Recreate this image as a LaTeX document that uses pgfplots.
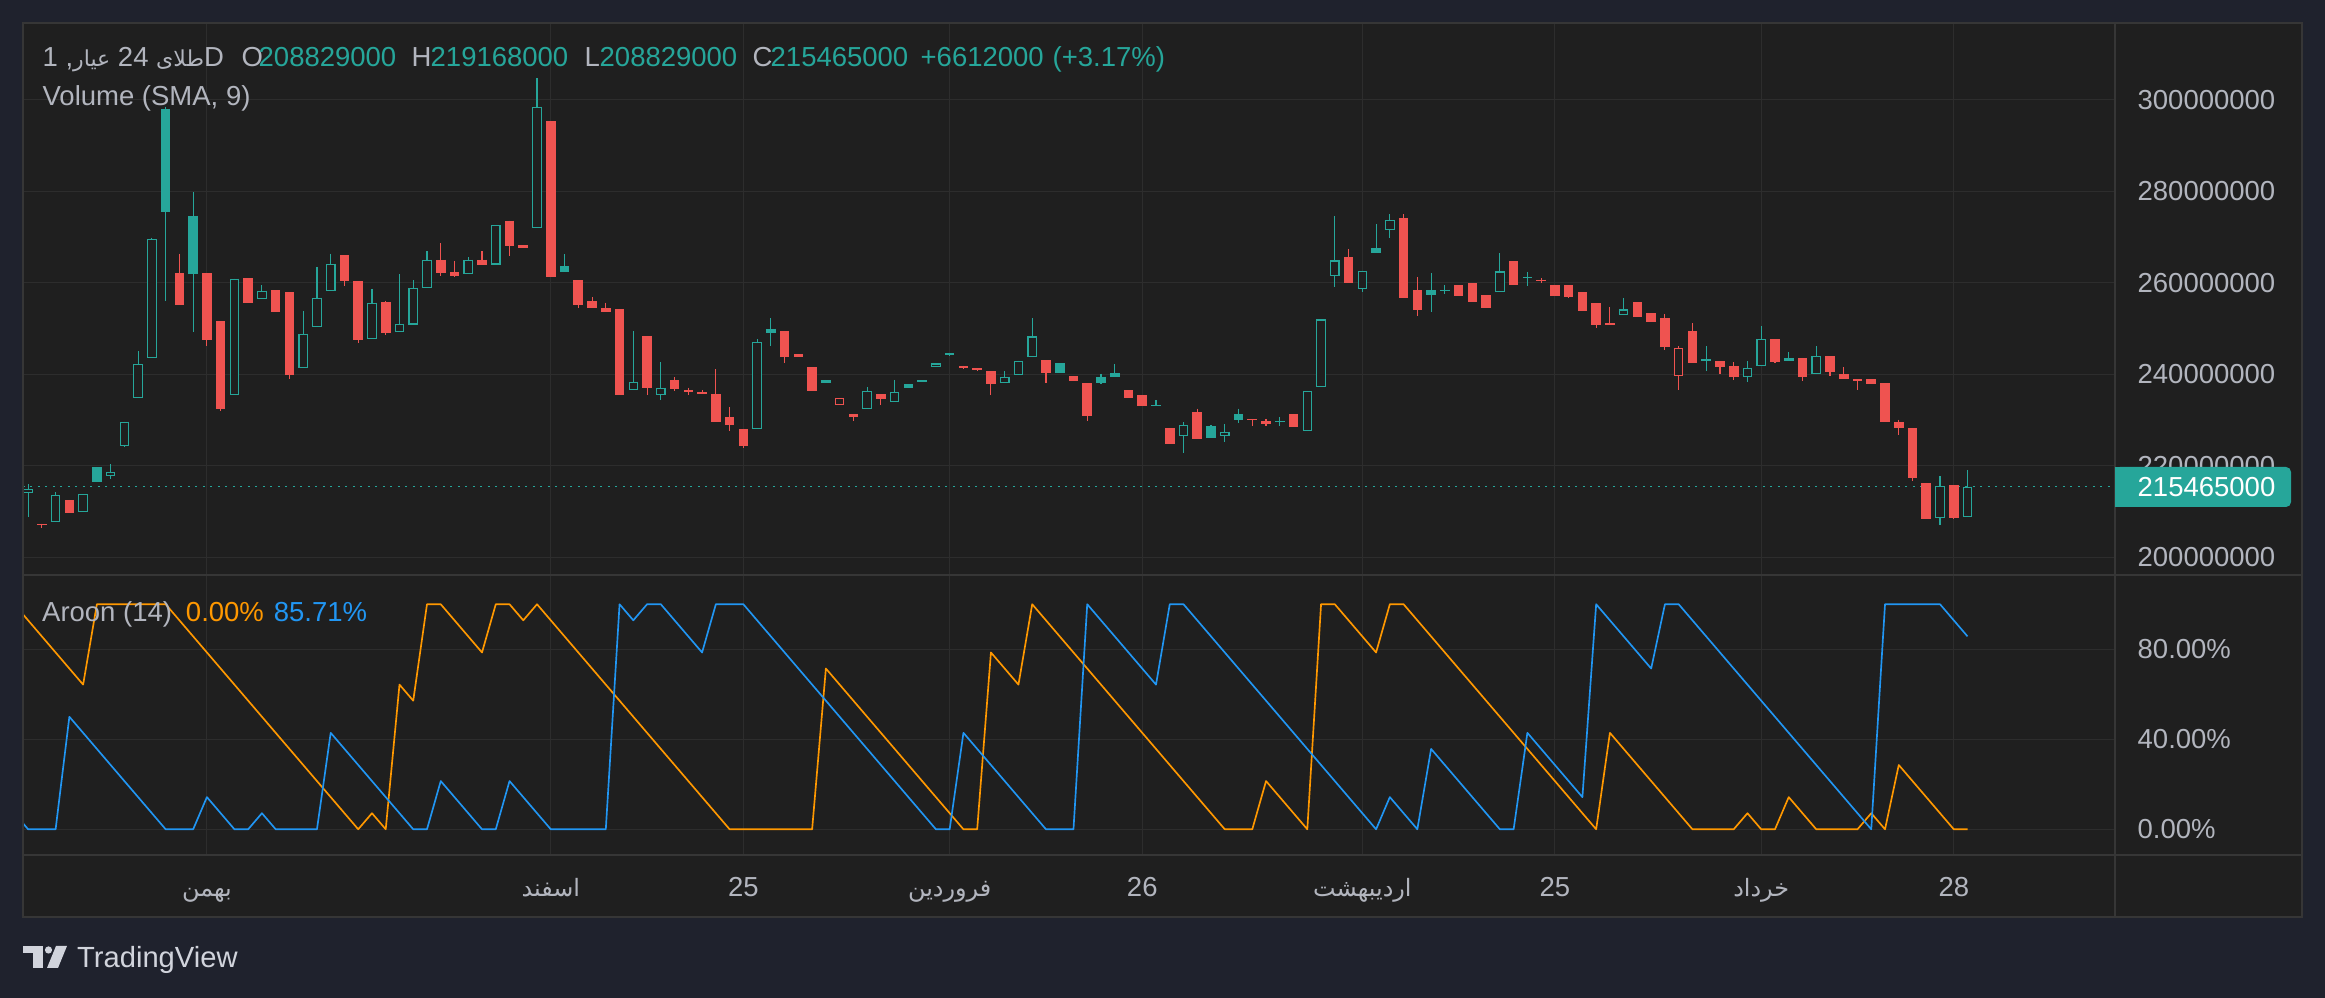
\documentclass[border=0pt]{standalone}
\usepackage{pgfplots}
\pgfplotsset{compat=1.18}
\usepackage{pgfplotstable}
\usepackage{fontspec}
\setmainfont{Liberation Sans}
\newfontfamily\arabicfont[Script=Arabic,Scale=0.87]{DejaVu Sans}
\newfontfamily\arabicsmall[Script=Arabic,Scale=0.8]{DejaVu Sans}
\TeXXeTstate=1
\newcommand{\fa}[1]{{\arabicfont\beginR #1\endR}}
\newcommand{\fs}[1]{{\arabicsmall\beginR #1\endR}}
\newcommand{\tvfont}{\fontsize{8.25pt}{10pt}\selectfont}
\definecolor{outerbg}{HTML}{1F222D}
\definecolor{panelbg}{HTML}{1F1F1F}
\definecolor{gridc}{HTML}{2D2D2D}
\definecolor{sepc}{HTML}{363636}
\definecolor{up}{HTML}{26A69A}
\definecolor{down}{HTML}{EF5350}
\definecolor{aup}{HTML}{FF9800}
\definecolor{adown}{HTML}{2196F3}
\definecolor{txt}{HTML}{B2B5BE}
\definecolor{logoc}{HTML}{D1D4DC}

% candles: i O H L C g(1=green) f(1=filled)
\pgfplotstableread{
i O H L C g f
1 214.0 216.1 208.9 214.9 1 0
2 207.3 207.4 206.4 207.0 0 1
3 207.7 214.3 207.7 213.6 1 0
4 212.6 212.6 209.8 209.8 0 1
5 209.9 213.8 209.9 213.8 1 0
6 219.8 219.8 216.6 216.6 1 1
7 217.7 220.4 217.1 218.6 1 0
8 224.4 229.7 224.1 229.7 1 0
9 234.8 245.1 234.8 242.2 1 0
10 243.5 269.9 243.5 269.5 1 0
11 298.0 298.5 256.1 275.5 1 1
12 262.1 266.4 255.2 255.2 0 1
13 274.7 279.8 249.3 262.0 1 1
14 262.1 262.1 246.3 247.6 0 1
15 251.6 251.6 232.0 232.5 0 1
16 235.5 260.9 235.5 260.9 1 0
17 261.0 261.0 255.5 255.5 0 1
18 256.5 259.5 256.5 258.3 1 0
19 258.4 258.4 253.7 253.7 0 1
20 257.9 257.9 239.0 239.9 0 1
21 241.3 253.9 241.3 248.9 1 0
22 250.3 263.5 250.3 256.8 1 0
23 258.2 266.4 258.2 264.2 1 0
24 266.0 266.0 259.3 260.3 0 1
25 260.3 260.3 246.9 247.6 0 1
26 247.7 258.7 247.7 255.7 1 0
27 255.8 256.1 248.6 249.1 0 1
28 249.2 261.9 249.2 251.1 1 0
29 250.9 260.6 250.9 258.9 1 0
30 258.9 266.9 258.9 265.1 1 0
31 265.1 268.7 261.5 262.2 0 1
32 262.4 264.8 261.3 261.6 0 1
33 261.9 265.6 261.9 265.1 1 0
34 265.1 266.9 264.0 264.0 0 1
35 264.0 272.6 264.0 272.6 1 0
36 273.6 273.6 265.9 268.1 0 1
37 268.2 268.3 267.6 267.7 0 1
38 271.9 304.7 271.9 298.5 1 0
39 295.3 295.3 261.3 261.3 0 1
40 263.6 266.2 262.4 262.4 1 1
41 260.6 260.6 254.4 255.2 0 1
42 256.0 256.9 254.6 254.6 0 1
43 254.5 255.7 253.7 253.7 0 1
44 254.3 254.3 235.6 235.6 0 1
45 236.5 249.4 236.5 238.4 1 0
46 248.4 248.4 235.6 237.0 0 1
47 235.4 242.7 234.4 237.1 1 0
48 238.7 239.4 236.3 236.8 0 1
49 236.6 237.1 235.6 236.2 0 1
50 236.1 236.5 235.7 235.7 0 1
51 235.7 241.1 229.7 229.7 0 1
52 230.7 232.8 227.7 229.0 0 1
53 228.1 228.1 224.0 224.4 0 1
54 228.1 247.7 228.1 247.0 1 0
55 250.0 252.3 246.1 249.1 1 1
56 249.5 249.5 242.5 243.9 0 1
57 244.5 244.5 243.7 243.7 0 1
58 241.6 241.6 236.4 236.4 0 1
59 238.7 238.8 238.1 238.2 1 1
60 233.3 234.9 233.3 234.9 0 0
61 231.4 231.4 229.8 230.6 0 1
62 232.4 237.2 232.4 236.3 1 0
63 235.7 235.7 233.4 234.7 0 1
64 233.9 238.8 233.9 236.2 1 0
65 237.9 237.9 237.1 237.1 1 1
66 238.7 238.7 238.4 238.4 1 1
67 241.6 242.4 241.6 242.4 1 0
68 244.6 244.6 244.1 244.2 1 1
69 241.8 241.9 241.2 241.3 0 1
70 241.3 241.4 240.8 240.9 0 1
71 240.7 240.7 235.6 237.8 0 1
72 238.1 240.7 238.1 239.5 1 0
73 239.8 243.0 239.8 243.0 1 0
74 243.7 252.3 243.7 248.3 1 0
75 243.1 243.1 238.2 240.2 0 1
76 242.4 242.4 240.4 240.4 1 1
77 239.7 239.7 238.6 238.6 0 1
78 238.1 238.1 229.9 230.9 0 1
79 239.5 240.1 237.9 238.2 1 1
80 240.3 242.3 239.5 239.5 1 1
81 236.5 236.5 234.9 234.9 0 1
82 235.5 235.5 233.0 233.0 0 1
83 233.3 234.4 233.0 233.0 1 1
84 228.3 228.3 224.9 224.9 0 1
85 226.6 229.6 222.9 229.0 1 0
86 231.7 232.5 225.8 225.8 0 1
87 228.7 228.9 226.0 226.0 1 1
88 226.6 229.2 225.3 227.5 1 0
89 231.4 232.5 229.3 230.1 1 1
90 230.3 230.3 228.8 230.0 0 1
91 229.8 230.3 228.8 229.1 0 1
92 229.8 230.6 228.8 229.5 1 1
93 231.4 231.4 228.6 228.6 0 1
94 227.6 236.4 227.6 236.4 1 0
95 237.2 252.0 237.2 252.0 1 0
96 261.4 274.6 259.2 264.9 1 0
97 265.6 267.4 260.0 260.0 0 1
98 258.7 262.7 258.1 262.7 1 0
99 267.7 272.8 266.5 266.5 1 1
100 271.5 275.0 269.9 273.7 1 0
101 274.2 275.0 256.8 256.8 0 1
102 258.4 261.3 252.8 254.1 0 1
103 258.4 262.2 253.7 257.3 1 1
104 258.5 259.5 257.6 258.2 1 1
105 259.5 259.5 257.2 257.2 0 1
106 259.9 259.9 255.9 255.9 0 1
107 257.3 257.3 254.6 254.6 0 1
108 257.9 266.5 257.9 262.5 1 0
109 264.7 264.7 259.6 259.6 0 1
110 261.2 262.4 259.4 261.0 1 1
111 260.7 261.0 260.0 260.3 0 1
112 259.5 259.5 257.2 257.2 0 1
113 259.5 259.5 256.8 257.0 0 1
114 257.9 257.9 253.9 253.9 0 1
115 255.5 255.5 250.2 250.8 0 1
116 251.2 254.7 250.7 250.7 0 1
117 252.9 256.7 252.9 254.2 1 0
118 255.8 255.8 252.6 252.6 0 1
119 253.4 253.4 251.5 251.5 0 1
120 252.3 253.2 245.4 245.9 0 1
121 239.7 246.2 236.5 245.7 0 0
122 249.4 251.2 242.4 242.4 0 1
123 243.4 246.2 240.8 242.9 1 1
124 242.9 242.9 240.1 241.7 0 1
125 241.8 242.7 238.8 239.5 0 1
126 239.5 242.9 238.4 241.5 1 0
127 241.8 250.6 241.8 247.7 1 0
128 247.7 247.7 242.5 242.7 0 1
129 243.6 244.9 243.0 243.0 1 1
130 243.6 243.6 238.6 239.5 0 1
131 240.0 246.2 240.0 244.0 1 0
132 244.0 244.0 239.7 240.6 0 1
133 240.1 241.6 238.9 238.9 0 1
134 238.9 238.9 236.6 238.6 0 1
135 238.9 238.9 238.0 238.0 0 1
136 238.1 238.1 229.5 229.5 0 1
137 229.6 230.1 226.8 228.4 0 1
138 228.3 228.3 216.7 217.3 0 1
139 216.3 216.3 208.4 208.4 0 1
140 208.6 217.8 207.0 215.6 1 0
141 215.8 215.8 208.4 208.7 0 1
142 208.829 219.168 208.829 215.465 1 0
}\candles

\pgfplotstableread{
i v
0 100
5 64.29
6 100
11 100
25 0
26 7.14
27 0
28 64.29
29 57.14
30 100
31 100
34 78.57
35 100
36 100
37 92.86
38 100
52 0
58 0
59 71.43
69 0
70 0
71 78.57
73 64.29
74 100
88 0
90 0
91 21.43
94 0
95 100
96 100
99 78.57
100 100
101 100
115 0
116 42.86
122 0
125 0
126 7.14
127 0
128 0
129 14.29
131 0
134 0
135 7.14
136 0
137 28.57
141 0
142 0
}\aroonup

\pgfplotstableread{
i v
0 7.14
1 0
3 0
4 50
11 0
13 0
14 14.29
16 0
17 0
18 7.14
19 0
22 0
23 42.86
29 0
30 0
31 21.43
34 0
35 0
36 21.43
39 0
43 0
44 100
45 92.86
46 100
47 100
50 78.57
51 100
53 100
67 0
68 0
69 42.86
75 0
77 0
78 100
83 64.29
84 100
85 100
99 0
100 14.29
102 0
103 35.71
108 0
109 0
110 42.86
114 14.29
115 100
119 71.43
120 100
121 100
135 0
136 100
140 100
142 85.71
}\aroondown

\pgfplotsset{tvbase/.style={
  scale only axis, width=627.6pt,
  xmin=0.629, xmax=152.72,
  axis background/.style={fill=panelbg},
  axis line style={draw=none},
  tick style={draw=none},
  major tick length=0pt,
  xtick={14,39,53,68,82,98,112,127,141},
  grid=major,
  grid style={draw=gridc, line width=0.3pt},
  ytick pos=right, yticklabel pos=right,
  yticklabel style={anchor=west, inner sep=0pt, xshift=6.6pt, text=txt, font=\tvfont},
  clip mode=individual,
}}
\tikzset{px/.style={x=0.3pt,y=-0.3pt,yshift=299.4pt}}

\begin{document}
\begin{tikzpicture}
\begin{scope}[px]
\useasboundingbox (0,0) rectangle (2325,998);
\fill[outerbg] (0,0) rectangle (2325,998);
\fill[panelbg] (23,23) rectangle (2302,917);
\end{scope}

% ---------------- price panel ----------------
\begin{axis}[tvbase, at={(6.9pt,126.9pt)}, anchor=south west, height=165.6pt,
  ymin=196.18, ymax=316.78,
  ytick={200,220,240,260,280,300},
  yticklabels={\mbox{200000000},\mbox{220000000},\mbox{240000000},\mbox{260000000},\mbox{280000000},\mbox{300000000}},
  xticklabels={}]
% last price line
\addplot[up, line width=0.45pt, dash pattern=on 0.6pt off 1.65pt, forget plot]
  coordinates {(0.629,215.465) (152.72,215.465)};
% wicks
\addplot[draw=none, mark=none, forget plot,
  restrict expr to domain={\thisrow{g}}{1:1},
  error bars/.cd, y dir=minus, y explicit, error mark=none,
  error bar style={draw=up, solid, line width=0.33pt}]
  table[x=i, y=H, y error minus expr={\thisrow{H}-\thisrow{L}}] {\candles};
\addplot[draw=none, mark=none, forget plot,
  restrict expr to domain={\thisrow{g}}{0:0},
  error bars/.cd, y dir=minus, y explicit, error mark=none,
  error bar style={draw=down, solid, line width=0.33pt}]
  table[x=i, y=H, y error minus expr={\thisrow{H}-\thisrow{L}}] {\candles};
% bodies
\addplot[draw=none, mark=none, forget plot,
  restrict expr to domain={\thisrow{g}}{1:1},
  error bars/.cd, y dir=minus, y explicit, error mark=none,
  error bar style={draw=up, solid, line width=2.88pt}]
  table[x=i, y expr={max(\thisrow{O},\thisrow{C})},
        y error minus expr={max(abs(\thisrow{O}-\thisrow{C}),0.22)}] {\candles};
\addplot[draw=none, mark=none, forget plot,
  restrict expr to domain={\thisrow{g}}{0:0},
  error bars/.cd, y dir=minus, y explicit, error mark=none,
  error bar style={draw=down, solid, line width=2.88pt}]
  table[x=i, y expr={max(\thisrow{O},\thisrow{C})},
        y error minus expr={max(abs(\thisrow{O}-\thisrow{C}),0.22)}] {\candles};
% hollow interiors
\addplot[draw=none, mark=none, forget plot,
  restrict expr to domain={\thisrow{f}}{0:0},
  error bars/.cd, y dir=minus, y explicit, error mark=none,
  error bar style={draw=panelbg, solid, line width=2.2pt}]
  table[x=i, y expr={max(\thisrow{O},\thisrow{C})-0.24},
        y error minus expr={max(abs(\thisrow{O}-\thisrow{C})-0.48,0)}] {\candles};
\end{axis}

% ---------------- Aroon panel ----------------
\begin{axis}[tvbase, at={(6.9pt,43.11pt)}, anchor=south west, height=83.5pt,
  ymin=-11.11, ymax=112.58,
  ytick={0,40,80},
  yticklabels={\mbox{0.00\%},\mbox{40.00\%},\mbox{80.00\%}},
  xticklabels={\fa{بهمن},\fa{اسفند},\mbox{25},\fa{فروردین},\mbox{26},\fa{اردیبهشت},\mbox{25},\fa{خرداد},\mbox{28}},
  xticklabel style={anchor=base, inner sep=0pt, yshift=-12.6pt, text=txt, font=\tvfont}]
\addplot[aup, line width=0.5pt, line join=round] table[x=i, y=v] {\aroonup};
\addplot[adown, line width=0.5pt, line join=round] table[x=i, y=v] {\aroondown};
\end{axis}

\begin{scope}[px]
% separators and frame
\draw[sepc, line width=0.6pt] (23,575.5) -- (2302,575.5);
\draw[sepc, line width=0.6pt] (23,854.8) -- (2302,854.8);
\draw[sepc, line width=0.6pt] (2115,23) -- (2115,917);
\draw[sepc, line width=0.45pt] (23,23) rectangle (2302,917);

% last price label
\fill[up, rounded corners=1.5pt] (2115,467) rectangle (2291,507);
\fill[up] (2115,467) rectangle (2150,507);
\node[anchor=west, inner sep=0pt, text=white, font=\tvfont] at (2137,487) {215465000};

% header
\begin{scope}[every node/.style={inner sep=0pt, font=\tvfont, anchor=base west}]
\node[text=txt] at (42,66.7) {1 ,\fs{عیار} 24 \fs{طلای}D};
\node[text=txt] at (241,66.7) {O};
\node[text=up] at (258,66.7) {208829000};
\node[text=txt] at (411,66.7) {H};
\node[text=up] at (430,66.7) {219168000};
\node[text=txt] at (584,66.7) {L};
\node[text=up] at (599,66.7) {208829000};
\node[text=txt] at (752,66.7) {C};
\node[text=up] at (770,66.7) {215465000};
\node[text=up] at (920,66.7) {+6612000};
\node[text=up] at (1052,66.7) {(+3.17\%)};
\node[text=txt] at (42,106) {Volume (SMA, 9)};
\node[text=txt] at (41.5,621.7) {Aroon (14)};
\node[text=aup] at (185.3,621.7) {0.00\%};
\node[text=adown] at (273.2,621.7) {85.71\%};
\end{scope}

% TradingView logo
\fill[logoc] (23,946) rectangle (43,953);
\fill[logoc] (33,946) rectangle (43,968);
\fill[logoc] (48.5,950) circle (3.6);
\fill[logoc] (56,946) -- (67,946) -- (58,968) -- (47,968) -- cycle;
\node[anchor=base west, inner sep=0pt, text=logoc, font=\fontsize{8.75pt}{10pt}\selectfont] at (76.5,968) {TradingView};
\end{scope}
\end{tikzpicture}
\end{document}
